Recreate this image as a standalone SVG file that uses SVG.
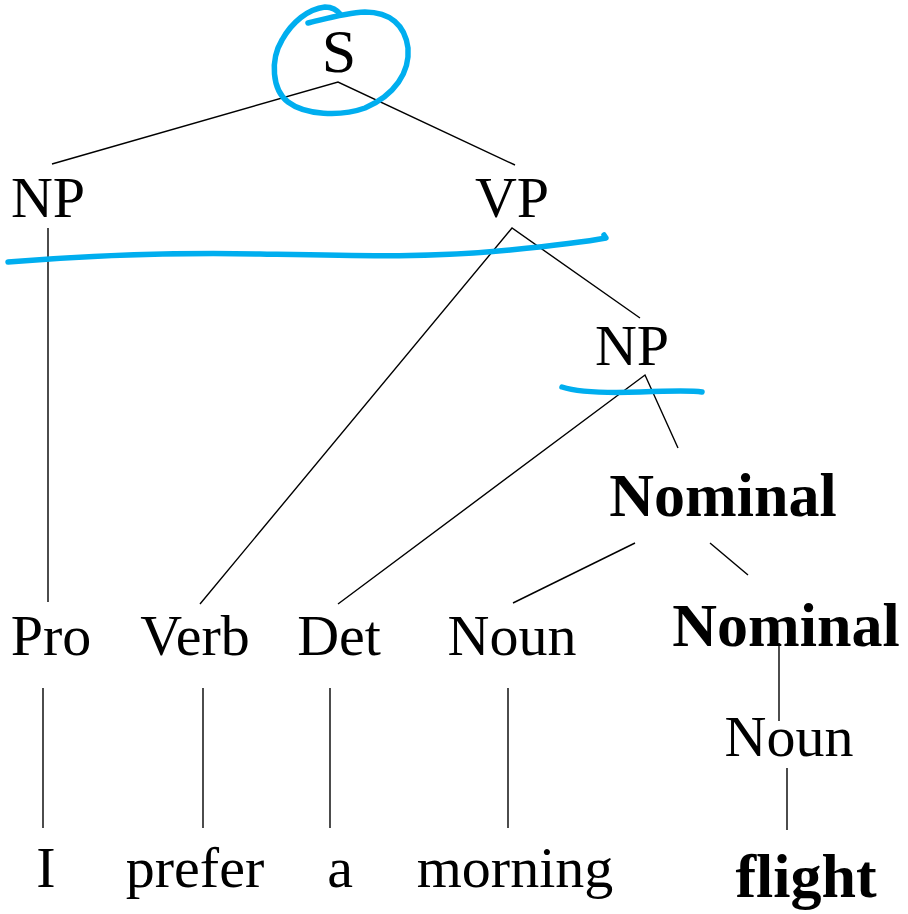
<svg xmlns="http://www.w3.org/2000/svg" width="908" height="914" viewBox="0 0 908 914">
<style>
.t{font-family:"Liberation Serif","Times New Roman",serif;font-size:58px;fill:#000;text-anchor:middle}
.b{font-weight:bold;font-size:62px}
.s{font-size:62px}
.e{stroke:#000;stroke-width:1.4;fill:none}
.h{stroke:#00AEEF;stroke-width:5.5;fill:none;stroke-linecap:round;stroke-linejoin:round}
</style>
<rect width="908" height="914" fill="#fff"/>
<g id="connectors">
<path class="e" d="M52,164 L338,82 L515,165"/>
<path class="e" d="M48,228 L48,602"/>
<path class="e" d="M200,604 L512,228 L640,318"/>
<path class="e" d="M338,604 L645,375 L678,448"/>
<path class="e" d="M513,603 L635,543"/>
<path class="e" d="M710,543 L748,575"/>
<path class="e" d="M779,643 L779,721"/>
<path class="e" d="M787,768 L787,830"/>
<path class="e" d="M43,688 L43,828"/>
<path class="e" d="M203,688 L203,828"/>
<path class="e" d="M330,688 L330,828"/>
<path class="e" d="M508,688 L508,828"/>
</g>
<g id="n-S"><text class="t s" x="339" y="72">S</text></g>
<g id="n-NP1"><text class="t" x="48" y="217">NP</text></g>
<g id="n-VP"><text class="t" x="512" y="217">VP</text></g>
<g id="n-NP2"><text class="t" x="632" y="365">NP</text></g>
<g id="n-Nominal1"><text class="t b" x="723" y="516">Nominal</text></g>
<g id="n-Pro"><text class="t" x="51" y="655">Pro</text></g>
<g id="n-Verb"><text class="t" x="195" y="655">Verb</text></g>
<g id="n-Det"><text class="t" x="339" y="655">Det</text></g>
<g id="n-Noun1"><text class="t" x="512" y="655">Noun</text></g>
<g id="n-Nominal2"><text class="t b" x="786" y="646">Nominal</text></g>
<g id="n-Noun2"><text class="t" x="789" y="756">Noun</text></g>
<g id="n-I"><text class="t" x="46" y="887">I</text></g>
<g id="n-prefer"><text class="t" x="195" y="887">prefer</text></g>
<g id="n-a"><text class="t" x="340" y="887">a</text></g>
<g id="n-morning"><text class="t" x="515" y="887">morning</text></g>
<g id="n-flight"><text class="t b" x="806" y="897">flight</text></g>
<g id="annotations">
<path class="h" d="M308,23 C325,19 345,13 365,12 C390,12 405,25 408,48 C410,72 395,95 365,108 C340,117 305,115 288,102 C272,90 270,60 282,40 C292,22 308,9 325,7 C333,7 338,11 341,15"/>
<path class="h" d="M8,262 C70,257 160,252 260,254 C360,256 430,258 510,250 C560,245 590,241 606,238 L604,235"/>
<path class="h" d="M562,387 C580,393 610,393 640,392 C665,391 690,390 702,392"/>
</g>
</svg>
